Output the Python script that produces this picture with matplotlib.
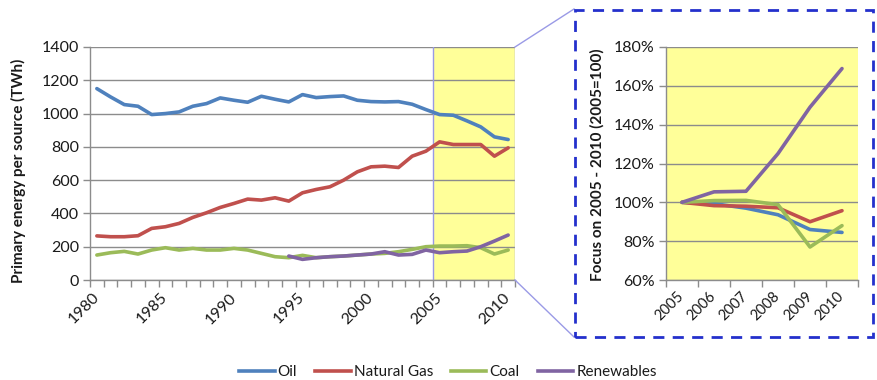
import matplotlib
matplotlib.use("Agg")
import matplotlib.pyplot as plt
from matplotlib.lines import Line2D
from matplotlib.patches import Rectangle

plt.rcParams['font.family'] = ['Lato', 'DejaVu Sans']

# ---- data -------------------------------------------------------------
years = list(range(1980, 2011))
oil = [1150, 1100, 1054, 1044, 994, 1000, 1010, 1044, 1060, 1094,
       1080, 1068, 1104, 1086, 1070, 1114, 1096, 1102, 1106, 1080,
       1072, 1070, 1072, 1056, 1024, 994, 990, 956, 920, 860, 844]
natural_gas = [265, 260, 260, 266, 310, 320, 340, 376, 404, 436,
               460, 486, 480, 494, 474, 524, 544, 560, 600, 650,
               680, 684, 676, 744, 774, 830, 814, 814, 814, 744, 794]
coal = [150, 164, 172, 156, 180, 194, 180, 190, 180, 180,
        190, 180, 160, 140, 134, 148, 134, 140, 144, 150,
        156, 160, 170, 184, 200, 204, 204, 206, 194, 156, 180]
renew_years = list(range(1994, 2011))
renewables = [144, 124, 134, 140, 144, 150, 156, 170, 150, 154,
              180, 164, 170, 174, 200, 234, 270]

focus_years = ["2005", "2006", "2007", "2008", "2009", "2010"]
oil_idx = [100, 99.3, 97.0, 93.6, 86.0, 84.5]
gas_idx = [100, 98.3, 98.0, 97.2, 90.0, 95.7]
coal_idx = [100, 100.9, 101.0, 98.8, 77.0, 88.0]
renew_idx = [100, 105.4, 105.7, 125.1, 149.0, 168.9]

series_names = ["Oil", "Natural Gas", "Coal", "Renewables"]
colors = ["#4F81BD", "#C0504D", "#9BBB59", "#8064A2"]

W, H = 877, 380
fig = plt.figure(figsize=(W / 100, H / 100), dpi=100)


def fx(px):
    return px / W


def fy(py):
    return 1 - py / H


grid_col = "#8C8C8C"
accent = "#9A9AE6"
yellow = "#FFFF99"
txt = "#1A1A1A"
lw = 2.6
tick_fs = 11.5

# ---- left: full history -------------------------------------------------
ax = fig.add_axes([fx(90), fy(280), fx(515) - fx(90), fy(47) - fy(280)])
ax.axvspan(2004.5, 2010.5, color=yellow, zorder=0, lw=0)
ax.plot(years, oil, color=colors[0], lw=lw, zorder=3, solid_capstyle='round')
ax.plot(years, natural_gas, color=colors[1], lw=lw, zorder=3, solid_capstyle='round')
ax.plot(years, coal, color=colors[2], lw=lw, zorder=3, solid_capstyle='round')
ax.plot(renew_years, renewables, color=colors[3], lw=lw, zorder=4, solid_capstyle='round')
ax.axvline(2004.5, color=accent, lw=1.0, zorder=2)
ax.axvline(2010.5, color=accent, lw=1.0, zorder=2)

ax.set_xlim(1979.5, 2010.5)
ax.set_ylim(0, 1400)
ax.set_yticks(range(0, 1401, 200))
ax.set_xticks([1980, 1985, 1990, 1995, 2000, 2005, 2010])
ax.set_xticks([y - 0.5 for y in years] + [2010.5], minor=True)
ax.tick_params(axis='x', which='major', length=0, pad=11, labelsize=tick_fs, labelcolor=txt)
ax.tick_params(axis='x', which='minor', length=5, width=1, color=grid_col, direction='out')
ax.tick_params(axis='y', length=5, width=1, color=grid_col, labelsize=tick_fs, labelcolor=txt, pad=3)
for lab in ax.get_xticklabels():
    lab.set_rotation(45)
    lab.set_ha('right')
    lab.set_va('center')
    lab.set_rotation_mode('anchor')
ax.grid(axis='y', color=grid_col, lw=1.0, zorder=1)
ax.set_axisbelow(True)
for side in ['top', 'right']:
    ax.spines[side].set_visible(False)
for side in ['left', 'bottom']:
    ax.spines[side].set_color(grid_col)
    ax.spines[side].set_linewidth(1.0)
ax.set_facecolor('none')

fig.text(fx(18), fy(171), "Primary energy per source (TWh)", rotation=90,
         ha='center', va='center', fontsize=11, fontweight='bold', color=txt)

# ---- right: 2005-2010 index ----------------------------------------------
ax2 = fig.add_axes([fx(666), fy(280), fx(858) - fx(666), fy(47) - fy(280)])
ax2.set_facecolor(yellow)
xi = list(range(len(focus_years)))
ax2.plot(xi, oil_idx, color=colors[0], lw=lw, zorder=3, solid_capstyle='round')
ax2.plot(xi, gas_idx, color=colors[1], lw=lw, zorder=3, solid_capstyle='round')
ax2.plot(xi, coal_idx, color=colors[2], lw=lw, zorder=4, solid_capstyle='round')
ax2.plot(xi, renew_idx, color=colors[3], lw=lw, zorder=5, solid_capstyle='round')
ax2.set_xlim(-0.5, len(focus_years) - 0.5)
ax2.set_ylim(60, 180)
ax2.set_yticks(range(60, 181, 20))
ax2.set_yticklabels([f"{v}%" for v in range(60, 181, 20)])
ax2.set_xticks(xi)
ax2.set_xticklabels(focus_years)
ax2.set_xticks([i - 0.5 for i in range(len(focus_years) + 1)], minor=True)
ax2.tick_params(axis='x', which='major', length=0, pad=10, labelsize=10.5, labelcolor=txt)
ax2.tick_params(axis='x', which='minor', length=5, width=1, color=grid_col, direction='out')
ax2.tick_params(axis='y', length=5, width=1, color=grid_col, labelsize=tick_fs, labelcolor=txt, pad=3)
for lab in ax2.get_xticklabels():
    lab.set_rotation(45)
    lab.set_ha('right')
    lab.set_va('center')
    lab.set_rotation_mode('anchor')
ax2.grid(axis='y', color=grid_col, lw=1.0, zorder=1)
ax2.set_axisbelow(True)
for side in ['top', 'right']:
    ax2.spines[side].set_visible(False)
for side in ['left', 'bottom']:
    ax2.spines[side].set_color(grid_col)
    ax2.spines[side].set_linewidth(1.0)

fig.text(fx(597), fy(165), "Focus on 2005 - 2010 (2005=100)", rotation=90,
         ha='center', va='center', fontsize=11, fontweight='bold', color=txt)

# ---- zoom frame and connectors -------------------------------------------
frame = Rectangle((fx(575), fy(337)), fx(873) - fx(575), fy(10) - fy(337),
                  transform=fig.transFigure, fill=False, edgecolor="#2430CC",
                  lw=2.0, linestyle=(0, (4, 3)), zorder=10)
fig.add_artist(frame)
fig.add_artist(Line2D([fx(515), fx(574)], [fy(47), fy(9)], transform=fig.transFigure,
                      color=accent, lw=1.0))
fig.add_artist(Line2D([fx(515), fx(574)], [fy(280), fy(337)], transform=fig.transFigure,
                      color=accent, lw=1.0))

# ---- legend --------------------------------------------------------------
handles = [Line2D([], [], color=c, lw=lw) for c in colors]
fig.legend(handles, series_names, loc='center', bbox_to_anchor=(fx(448), fy(372)),
           ncol=4, frameon=False, fontsize=11, handlelength=2.3, handletextpad=0.2,
           columnspacing=1.2, labelcolor=txt)

fig.savefig("out.png", dpi=100)
